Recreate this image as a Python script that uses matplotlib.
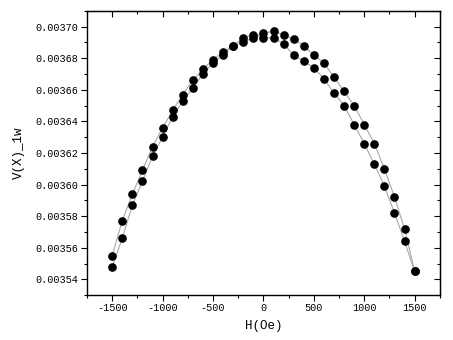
import numpy as np
import matplotlib
matplotlib.use("Agg")
import matplotlib.pyplot as plt
from matplotlib.ticker import MultipleLocator, FixedLocator

H = [-1500, -1400, -1300, -1200, -1100, -1000, -900, -800, -700, -600, -500, -400,
     -300, -200, -100, 0, 100, 200, 300, 400, 500, 600, 700, 800, 900, 1000, 1100,
     1200, 1300, 1400, 1500]

# branch A (shifted toward positive field)
V_a = [0.003548, 0.003566, 0.003587, 0.003602, 0.003618, 0.003630, 0.003643, 0.003653,
       0.003661, 0.003670, 0.003677, 0.003682, 0.003688, 0.003690, 0.003693, 0.003696,
       0.003697, 0.003695, 0.003692, 0.003688, 0.003682, 0.003677, 0.003668, 0.003659,
       0.003650, 0.003638, 0.003626, 0.003610, 0.003592, 0.003572, 0.003545]
# branch B (shifted toward negative field)
V_b = [0.003555, 0.003577, 0.003594, 0.003609, 0.003624, 0.003636, 0.003647, 0.003657,
       0.003666, 0.003673, 0.003679, 0.003684, 0.003688, 0.003693, 0.003695, 0.003693,
       0.003693, 0.003689, 0.003682, 0.003678, 0.003674, 0.003667, 0.003658, 0.003650,
       0.003638, 0.003626, 0.003613, 0.003599, 0.003582, 0.003564, 0.003545]

x_ticks = [-1500, -1000, -500, 0, 500, 1000, 1500]
y_ticks = [0.00354, 0.00356, 0.00358, 0.00360, 0.00362, 0.00364, 0.00366, 0.00368, 0.00370]

font = "Liberation Mono"

fig = plt.figure(figsize=(4.53, 3.40), dpi=100)
ax = fig.add_axes([0.192, 0.132, 0.779, 0.836])

for V in (V_a, V_b):
    ax.plot(H, V, color="#a8a8a8", lw=0.8, zorder=1)
    ax.plot(H, V, ls="none", marker="o", ms=5.2, color="black", zorder=2)

ax.set_xlim(-1750, 1750)
ax.set_ylim(0.00353, 0.00371)
ax.xaxis.set_major_locator(FixedLocator(x_ticks))
ax.xaxis.set_minor_locator(MultipleLocator(250))
ax.yaxis.set_major_locator(FixedLocator(y_ticks))
ax.yaxis.set_minor_locator(MultipleLocator(0.00001))
ax.set_xticklabels([str(v) for v in x_ticks], family=font, fontsize=7.3)
ax.set_yticklabels([f"{v:.5f}" for v in y_ticks], family=font, fontsize=7.3)

ax.tick_params(which="both", direction="out", top=False, right=False, width=0.8)
ax.tick_params(which="major", length=4, pad=2)
ax.tick_params(which="minor", length=2)

# mirrored inward ticks on top and right
secx = ax.secondary_xaxis("top")
secx.xaxis.set_major_locator(FixedLocator(x_ticks))
secx.xaxis.set_minor_locator(MultipleLocator(250))
secx.tick_params(which="both", direction="in", labeltop=False, width=0.8)
secx.tick_params(which="major", length=4)
secx.tick_params(which="minor", length=2)
secy = ax.secondary_yaxis("right")
secy.yaxis.set_major_locator(FixedLocator(y_ticks))
secy.yaxis.set_minor_locator(MultipleLocator(0.00001))
secy.tick_params(which="both", direction="in", labelright=False, width=0.8)
secy.tick_params(which="major", length=4)
secy.tick_params(which="minor", length=2)

for sp in ax.spines.values():
    sp.set_linewidth(1.0)

ax.set_xlabel("H(Oe)", family=font, fontsize=9, labelpad=5)
ax.set_ylabel("V(X)_1w", family=font, fontsize=9, labelpad=8)

fig.savefig("out.png", dpi=100)
